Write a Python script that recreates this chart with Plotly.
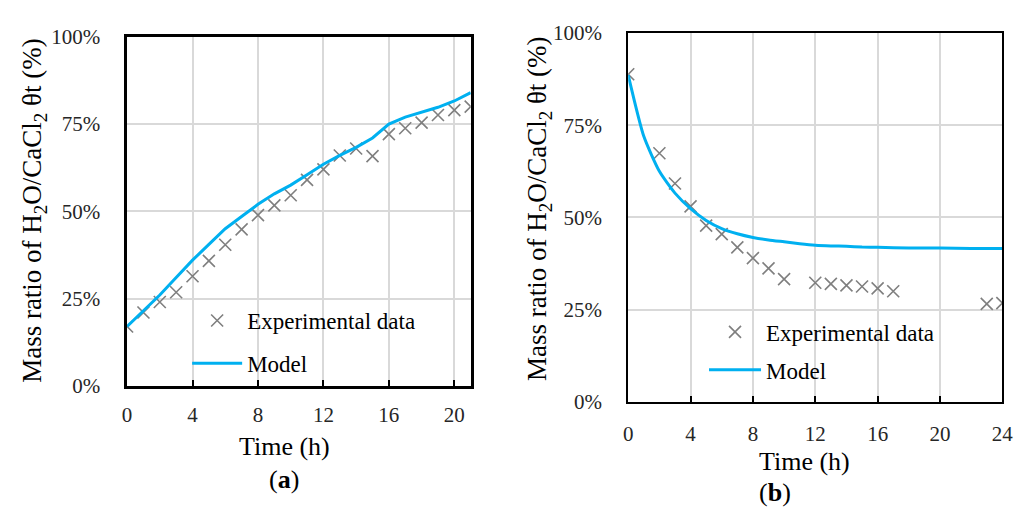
import plotly.graph_objects as go

# ---------------- data ----------------
# panel (a)
t_a_exp = [0, 1, 2, 3, 4, 5, 6, 7, 8, 9, 10, 11, 12, 13, 14, 15, 16, 17, 18, 19, 20, 21]
exp_a = [17, 21, 24, 26.8, 31.4, 35.8, 40.4, 44.8, 48.9, 51.7, 54.6, 59, 62, 66, 68, 65.8,
         72.1, 73.8, 75.4, 77.6, 79, 80]
t_a_model = [0, 1, 2, 3, 4, 5, 6, 7, 8, 9, 10, 11, 12, 13, 14, 15, 16, 17, 18, 19, 20, 21]
model_a = [17, 21.5, 26, 31, 36, 40.5, 45, 48.5, 52, 55, 57.5, 60.5, 63.5, 66, 68.3, 71,
           75, 77, 78.5, 79.8, 81.6, 84]

# panel (b)
t_b_exp = [0, 2, 3, 4, 5, 6, 7, 8, 9, 10, 12, 13, 14, 15, 16, 17, 23, 24]
exp_b = [88.8, 67.4, 59.2, 53, 47.8, 45.5, 41.9, 39, 36.2, 33.3, 32.3, 32, 31.6, 31.3,
         30.8, 30, 26.6, 26.8]
t_b_model = [0, 1, 2, 3, 4, 5, 6, 7, 8, 9, 10, 11, 12, 13, 14, 15, 16, 18, 20, 22, 24]
model_b = [88.6, 72, 62.5, 56.6, 52.4, 49.2, 47, 45.6, 44.6, 43.9, 43.4, 42.9, 42.5, 42.3,
           42.2, 42.0, 41.9, 41.7, 41.7, 41.6, 41.6]

y_ticks = [0, 25, 50, 75, 100]
x_ticks_a = [0, 4, 8, 12, 16, 20]
x_ticks_b = [0, 4, 8, 12, 16, 20, 24]

exp_name = "Experimental data"
model_name = "Model"
y_title = "Mass ratio of H<sub>2</sub>O/CaCl<sub>2</sub> θt (%)"
x_title = "Time (h)"

# ---------------- styling ----------------
W, H = 1035, 516
FONT = "Liberation Serif"
BLUE = "#00B0F0"
GRAY = "#7F7F7F"
GRID = "#D9D9D9"


def px_x(p):
    return p / W


def px_y(p):
    return 1 - p / H


fig = go.Figure()

marker_style = dict(symbol="x-thin", size=12, line=dict(color=GRAY, width=1.6), color=GRAY)

fig.add_trace(go.Scatter(x=t_a_exp, y=exp_a, mode="markers", name=exp_name,
                         marker=marker_style, xaxis="x", yaxis="y",
                         legend="legend", legendgroup="a1"))
fig.add_trace(go.Scatter(x=t_a_model, y=model_a, mode="lines", name=model_name,
                         line=dict(color=BLUE, width=3), xaxis="x", yaxis="y",
                         legend="legend", legendgroup="a2"))
fig.add_trace(go.Scatter(x=t_b_exp, y=exp_b, mode="markers", name=exp_name,
                         marker=marker_style, xaxis="x2", yaxis="y2",
                         legend="legend2", legendgroup="b1"))
fig.add_trace(go.Scatter(x=t_b_model, y=model_b, mode="lines", name=model_name,
                         line=dict(color=BLUE, width=3, shape="spline", smoothing=0.6),
                         xaxis="x2", yaxis="y2",
                         legend="legend2", legendgroup="b2"))

tickfont = dict(family=FONT, size=21, color="#262626")

common_x = dict(showgrid=True, gridcolor=GRID, gridwidth=1.5, showline=True,
                linecolor="black", mirror=True, ticks="inside", ticklen=6,
                tickcolor="black", tickwidth=2, tickfont=tickfont, zeroline=False,
                tickmode="array")
common_y = dict(showgrid=True, gridcolor=GRID, gridwidth=1.5, showline=True,
                linecolor="black", mirror=True, ticks="", tickfont=tickfont,
                zeroline=False, range=[0, 100], tickmode="array", tickvals=y_ticks,
                ticktext=[f"{v}%" for v in y_ticks], ticklabelstandoff=20)

legend_common = dict(font=dict(family=FONT, size=23, color="black"),
                     bgcolor="rgba(0,0,0,0)", borderwidth=0, traceorder="grouped",
                     xanchor="left", yanchor="top", xref="paper", yref="paper")

fig.update_layout(
    width=W, height=H,
    margin=dict(l=0, r=0, t=0, b=0),
    paper_bgcolor="white", plot_bgcolor="white",
    font=dict(family=FONT, color="black"),
    xaxis=dict(common_x, domain=[px_x(124), px_x(473)], range=[0, 21],
               tickvals=x_ticks_a, ticktext=[str(v) for v in x_ticks_a],
               linewidth=2.5, anchor="y", ticklabelstandoff=8),
    yaxis=dict(common_y, domain=[px_y(392), px_y(26)], linewidth=2.5, anchor="x"),
    xaxis2=dict(common_x, domain=[px_x(633), px_x(1013)], range=[0, 24],
                tickvals=x_ticks_b, ticktext=[str(v) for v in x_ticks_b],
                linewidth=2, anchor="y2", ticklabelstandoff=12),
    yaxis2=dict(common_y, domain=[px_y(409), px_y(22)], linewidth=2, anchor="x2"),
    legend=dict(legend_common, x=px_x(185), y=px_y(301), itemwidth=50, tracegroupgap=10),
    legend2=dict(legend_common, x=px_x(710), y=px_y(313), itemwidth=52, tracegroupgap=5),
)

ann_font = dict(family=FONT, size=26, color="black")
annotations = [
    dict(text=y_title, x=px_x(30), y=px_y(208), textangle=-90, font=dict(ann_font, size=27)),
    dict(text=y_title, x=px_x(543), y=px_y(206), textangle=-90, font=dict(ann_font, size=27)),
    dict(text=x_title, x=px_x(284), y=px_y(456), font=ann_font),
    dict(text=x_title, x=px_x(812), y=px_y(471), font=ann_font),
    dict(text="(<b>a</b>)", x=px_x(283), y=px_y(490), font=ann_font),
    dict(text="(<b>b</b>)", x=px_x(782), y=px_y(504), font=ann_font),
]
for a in annotations:
    fig.add_annotation(xref="paper", yref="paper", showarrow=False, xanchor="center",
                       yanchor="middle", **a)

fig.write_html("out.html")
